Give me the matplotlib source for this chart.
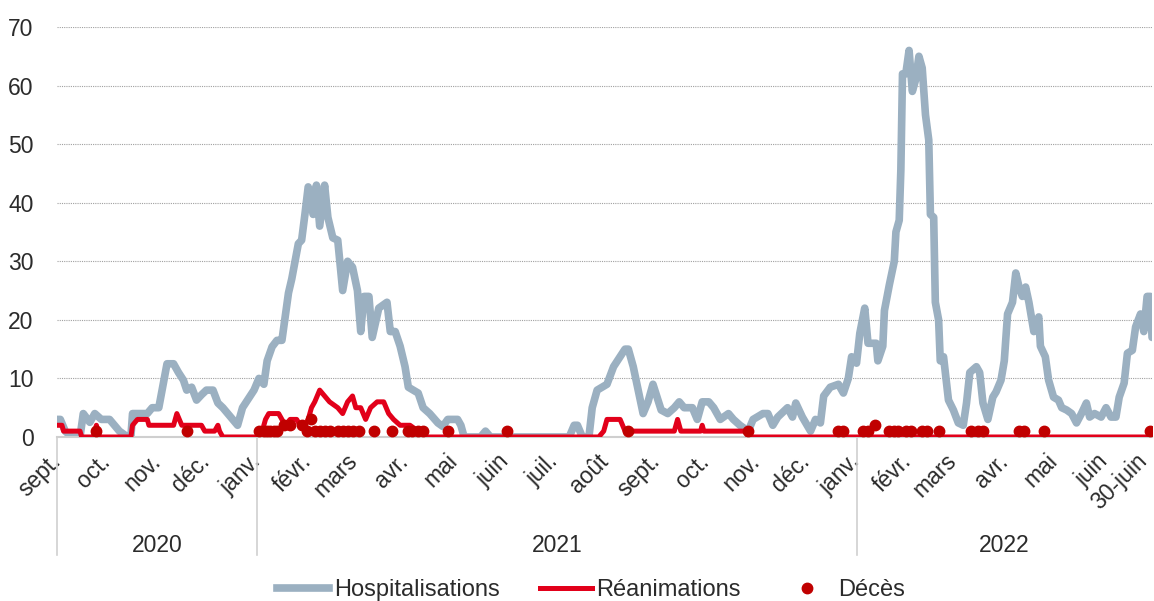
import pandas as pd
import matplotlib.pyplot as plt
from matplotlib.lines import Line2D
from matplotlib.transforms import ScaledTranslation

# jours comptés depuis le 1er septembre 2020
start = pd.Timestamp('2020-09-01')
end = pd.Timestamp('2022-06-30')

hosp_days = [0, 2, 5, 9, 14, 16, 20, 23, 27, 32, 35, 38, 43, 45, 46, 55, 58, 62,
             64, 67, 71, 74, 77, 79, 82, 85, 88, 91, 95, 98, 101, 104, 107, 110,
             113, 116, 120, 123, 126, 128, 131, 134, 137, 139, 141, 143, 145, 147,
             149, 151, 153, 156, 158, 160, 163, 165, 168, 171, 174, 177, 180, 183,
             185, 187, 190, 192, 196, 201, 203, 206, 209, 212, 214, 220, 223, 227,
             232, 235, 238, 244, 246, 248, 258, 261, 264, 267, 312, 315, 317, 320,
             324, 326, 329, 335, 339, 343, 346, 348, 351, 354, 357, 360, 363, 368,
             372, 376, 379, 382, 387, 390, 393, 397, 400, 404, 409, 412, 416, 421,
             424, 430, 433, 436, 439, 445, 448, 450, 454, 459, 462, 465, 467, 471,
             476, 479, 482, 484, 487, 489, 492, 494, 499, 500, 503, 504, 507, 510,
             511, 513, 514, 515, 517, 519, 521, 523, 525, 527, 529, 531, 532, 534,
             535, 537, 538, 540, 543, 546, 549, 552, 554, 556, 560, 562, 564, 567,
             570, 572, 575, 577, 579, 582, 584, 586, 588, 590, 592, 595, 598, 599,
             602, 604, 607, 610, 612, 615, 618, 621, 624, 627, 629, 632, 636, 639,
             642, 645, 647, 650, 652, 655, 657, 660, 662, 664, 666, 667]
hosp_vals = [3, 3, 1, 0, 0, 4, 2.5, 4, 3, 3, 2, 1, 0, 0, 4, 4, 5, 5,
             8, 12.5, 12.5, 11, 9.7, 8, 8.5, 6.3, 7.2, 8, 8, 5.8, 5, 4, 3, 2,
             5, 6.3, 8, 10, 9, 13, 15.4, 16.5, 16.5, 20.5, 24.6, 27, 30, 33,
             33.6, 38, 42.7, 38, 43, 36, 43, 37.5, 34, 33.6, 25, 30, 29, 25,
             18, 24, 24, 17, 22, 23, 18, 18, 15.5, 12, 8.5, 7.5, 5, 4,
             2.4, 1.8, 3, 3, 2, 0, 0, 1, 0, 0, 0, 2, 2, 0,
             0, 5, 8, 9, 12, 13.7, 15, 15, 12, 8, 4, 6, 9, 4.6,
             4, 5, 6, 5, 5, 3, 6, 6, 5, 3, 4, 3, 2, 1,
             3, 4, 4, 2, 3.4, 5, 3.4, 5.8, 3.4, 1, 3, 2.4, 7, 8.5,
             9, 7.5, 10, 13.7, 12.6, 17.7, 22, 16, 16, 13, 15.5, 21.6, 26, 30,
             35, 37, 45.6, 62, 62, 66, 59, 61, 65, 63, 55, 50.7, 38, 37.5,
             23, 20, 13, 13.7, 6.3, 4.6, 2.4, 2, 5.8, 11, 12, 11, 5.8, 3,
             6.8, 7.7, 9.7, 13, 21, 23, 28, 25.6, 24, 25.6, 23, 18, 20.5, 15.5,
             13.7, 9.7, 6.8, 6.3, 5, 4.6, 4, 2.4, 4, 5.8, 3.4, 4, 3.4, 5,
             3.4, 3.4, 6.8, 9.2, 14.3, 14.8, 18.8, 21, 18, 24, 24, 17]

rea_days = [0, 3, 4, 14, 15, 22, 24, 26, 45, 46, 49, 55, 56, 66, 71, 73, 76, 78,
            88, 90, 96, 98, 99, 101, 122, 125, 127, 129, 135, 137, 139, 142, 146,
            148, 151, 153, 155, 157, 160, 163, 166, 171, 174, 177, 180, 182, 185,
            188, 191, 195, 199, 202, 205, 209, 215, 220, 223, 330, 333, 335, 343,
            346, 376, 378, 380, 392, 393, 394, 420, 421, 667]
rea_vals = [2, 2, 1, 1, 0, 0, 2, 0, 0, 2, 3, 3, 2, 2, 2, 4, 2, 2,
            2, 1, 1, 2, 1, 0, 0, 1, 3, 4, 4, 3, 2, 3, 3,
            2, 2, 3, 5, 6, 8, 7, 6, 5, 4, 6, 7, 5, 5,
            3, 5, 6, 6, 4, 3, 2, 2, 1, 0, 0, 1, 3, 3,
            1, 1, 3, 1, 1, 2, 1, 1, 0, 0]

deces_days = [24, 79, 123, 126, 128, 130, 132, 134, 138, 142, 149, 152,
              155, 157, 160, 163, 166, 171, 174, 177, 180, 184,
              193, 204, 214, 216, 220, 223, 238, 274, 348, 421,
              476, 479, 491, 494, 498, 507, 510, 512, 517, 520,
              527, 530, 537, 557, 561, 564, 586, 589, 601, 666]
deces_vals = [1, 1, 1, 1, 1, 1, 1, 1, 2, 2, 2, 1,
              3, 1, 1, 1, 1, 1, 1, 1, 1, 1,
              1, 1, 1, 1, 1, 1, 1, 1, 1, 1,
              1, 1, 1, 1, 2, 1, 1, 1, 1, 1,
              1, 1, 1, 1, 1, 1, 1, 1, 1, 1]

month_labels = ['sept.', 'oct.', 'nov.', 'déc.', 'janv.', 'févr.', 'mars', 'avr.',
                'mai', 'juin', 'juil.', 'août', 'sept.', 'oct.', 'nov.', 'déc.',
                'janv.', 'févr.', 'mars', 'avr.', 'mai', 'juin', '30-juin']
years = ['2020', '2021', '2022']

C_HOSP = '#9BB0C1'
C_REA = '#E2001A'
C_DC = '#C00000'

plt.rcParams['font.family'] = ['Liberation Sans', 'DejaVu Sans']

fig = plt.figure(figsize=(11.54, 6.01), dpi=100)
ax = fig.add_axes([0.0494, 0.2729, 0.9489, 0.6822])

ax.plot(hosp_days, hosp_vals, color=C_HOSP, lw=5.5, solid_joinstyle='round',
        solid_capstyle='round', zorder=2)
ax.plot(rea_days, rea_vals, color=C_REA, lw=3.6, solid_joinstyle='round',
        zorder=3)
ax.plot(deces_days, deces_vals, 'o', color=C_DC, ms=7.5, zorder=4)

total = (end - start).days
ax.set_xlim(0, total)
ax.set_ylim(0, 70)
ax.set_yticks(range(0, 71, 10))
ax.yaxis.grid(True, linestyle=(0, (1, 1)), color='#a0a0a0', lw=0.8)
ax.set_axisbelow(True)

for s in ['top', 'right', 'left']:
    ax.spines[s].set_visible(False)
ax.spines['bottom'].set_color('#CFCFCF')
ax.spines['bottom'].set_linewidth(1.5)

months = pd.date_range(start, '2022-06-01', freq='MS')
ticks = list((months - start).days) + [total]
ax.set_xticks(ticks)
ax.set_xticklabels(month_labels, rotation=45, ha='right', va='center',
                   rotation_mode='anchor')
ax.tick_params(axis='x', length=0, pad=15, labelsize=16.5, colors='#2b2b2b')
ax.tick_params(axis='y', length=0, pad=17, labelsize=16.5, colors='#2b2b2b')
# le dernier libellé est décalé pour rester dans l'image
last = ax.get_xticklabels()[-1]
last.set_transform(last.get_transform() +
                   ScaledTranslation(-6 / 72, 0, fig.dpi_scale_trans))

# séparateurs des années sous l'axe
bounds = [0, (pd.Timestamp('2021-01-01') - start).days,
          (pd.Timestamp('2022-01-01') - start).days, total]
trans = ax.get_xaxis_transform()
for b in bounds[:-1]:
    ax.plot([b, b], [0, -0.288], transform=trans, color='#D0D0D0', lw=1.2,
            clip_on=False)
for i, y in enumerate(years):
    ax.text((bounds[i] + bounds[i + 1]) / 2, -0.2635, y, transform=trans,
            ha='center', va='center', fontsize=16.5, color='#2b2b2b')

handles = [Line2D([], [], color=C_HOSP, lw=5.5),
           Line2D([], [], color=C_REA, lw=3.6),
           Line2D([], [], color=C_DC, marker='o', ms=7.5, ls='none')]
fig.legend(handles, ['Hospitalisations', 'Réanimations', 'Décès'],
           loc='center', bbox_to_anchor=(0.512, 0.018), ncol=3, frameon=False,
           fontsize=17, handlelength=2.2, handletextpad=0.2, columnspacing=1.7,
           labelcolor='#2b2b2b')

plt.savefig('out.png', dpi=100)
